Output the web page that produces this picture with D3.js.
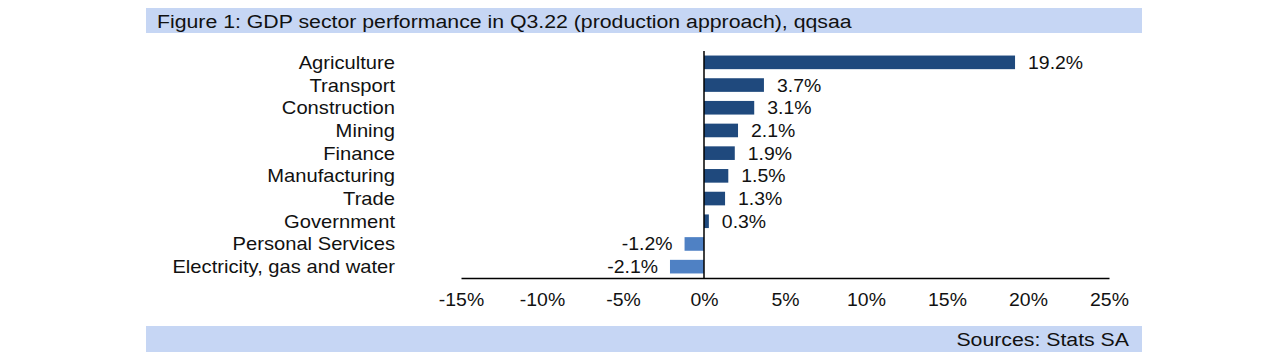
<!DOCTYPE html>
<html><head><meta charset="utf-8">
<script src="https://cdn.jsdelivr.net/npm/d3@7"></script>
<style>
body{margin:0;background:#fff;}
svg{display:block;font-family:"Liberation Sans",Arial,sans-serif;}
</style></head>
<body><svg id="c" width="1288" height="364"></svg>
<script>
const categories = ["Agriculture","Transport","Construction","Mining","Finance","Manufacturing","Trade","Government","Personal Services","Electricity, gas and water"];
const values = [19.2,3.7,3.1,2.1,1.9,1.5,1.3,0.3,-1.2,-2.1];
const tickValues = [-15,-10,-5,0,5,10,15,20,25];
const title = "Figure 1: GDP sector performance in Q3.22 (production approach), qqsaa";
const source = "Sources: Stats SA";

const SX = 1.12;
const svg = d3.select("#c");
// header & footer bars
svg.append("rect").attr("x",146).attr("y",8).attr("width",996).attr("height",25).attr("fill","#c6d6f4");
svg.append("text").attr("transform","translate(157,28) scale("+SX+",1)").attr("font-size",19).attr("fill","#111").text(title);
svg.append("rect").attr("x",146).attr("y",326).attr("width",996).attr("height",26).attr("fill","#c6d6f4");
svg.append("text").attr("transform","translate(1129,346) scale("+SX+",1)").attr("font-size",19).attr("text-anchor","end").attr("fill","#111").text(source);

const x = d3.scaleLinear().domain([-15,25]).range([461,1109]);
const y = d3.scaleBand().domain(categories).range([51,278]).paddingInner(0.4).paddingOuter(0.2);

// bars
svg.append("g").selectAll("rect").data(values).join("rect")
  .attr("x",(d)=>x(Math.min(0,d)))
  .attr("y",(d,i)=>y(categories[i]))
  .attr("width",d=>Math.abs(x(d)-x(0)))
  .attr("height",y.bandwidth())
  .attr("fill",d=>d<0?"#4f81c4":"#1f497d");

// value labels
svg.append("g").selectAll("text").data(values).join("text")
  .attr("transform",(d,i)=>"translate("+(d<0? x(d)-12 : x(d)+13)+","+(y(categories[i])+y.bandwidth()/2)+") scale(1.08,1)")
  .attr("dy","0.36em")
  .attr("font-size",18)
  .attr("fill","#111")
  .attr("text-anchor",d=>d<0?"end":"start")
  .text(d=>d.toFixed(1)+"%");

// category labels
svg.append("g").selectAll("text").data(categories).join("text")
  .attr("transform",d=>"translate(395,"+(y(d)+y.bandwidth()/2)+") scale("+SX+",1)")
  .attr("dy","0.36em")
  .attr("font-size",18)
  .attr("fill","#111")
  .attr("text-anchor","end")
  .text(d=>d);

// x axis
const xAxis = d3.axisBottom(x).tickValues(tickValues).tickSize(0).tickPadding(15).tickFormat(d=>d+"%");
const gx = svg.append("g").attr("transform","translate(0,278)").call(xAxis);
gx.select(".domain").attr("stroke","#000").attr("stroke-width",1.5);
gx.selectAll("text").attr("font-size",18).attr("fill","#111").attr("font-family","Liberation Sans, Arial, sans-serif").attr("transform","scale(1.08,1)");

// zero line
svg.append("line").attr("x1",x(0)).attr("x2",x(0)).attr("y1",51).attr("y2",278).attr("stroke","#000").attr("stroke-width",1.5);
</script></body></html>
